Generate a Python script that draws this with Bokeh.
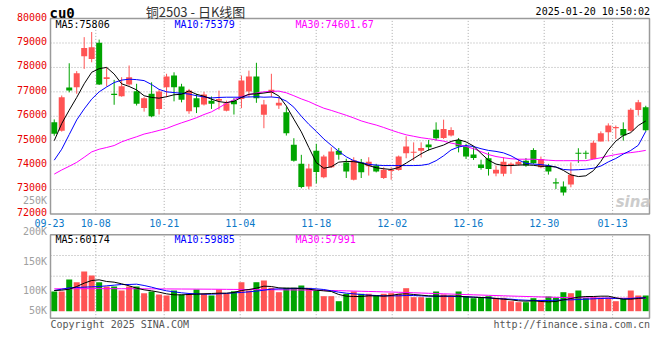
import numpy as np
from bokeh.plotting import figure
from bokeh.models import Range1d, ColumnDataSource
from bokeh.core.properties import value
from bokeh.embed import file_html
from bokeh.resources import INLINE

# ---------------- data ----------------
dates = ["09-23", "09-24", "09-25", "09-26", "09-27", "09-30",
         "10-08", "10-09", "10-10", "10-11", "10-14", "10-15", "10-16", "10-17", "10-18",
         "10-21", "10-22", "10-23", "10-24", "10-25", "10-28", "10-29", "10-30", "10-31",
         "11-01", "11-04", "11-05", "11-06", "11-07", "11-08", "11-11", "11-12", "11-13",
         "11-14", "11-15", "11-18", "11-19", "11-20", "11-21", "11-22", "11-25", "11-26",
         "11-27", "11-28", "11-29", "12-02", "12-03", "12-04", "12-05", "12-06", "12-09",
         "12-10", "12-11", "12-12", "12-13", "12-16", "12-17", "12-18", "12-19", "12-20",
         "12-23", "12-24", "12-25", "12-26", "12-27", "12-30", "12-31", "01-02", "01-03",
         "01-06", "01-07", "01-08", "01-09", "01-10", "01-13", "01-14", "01-15", "01-16",
         "01-17", "01-20"]

open_ = [75750, 75410, 77180, 77190, 78460, 78350, 79010, 77530, 76920, 76820,
         77300, 77020, 76340, 76920, 76300, 77190, 77670, 77220, 76200, 76740,
         76480, 76640, 76630, 76230, 76640, 76710, 77010, 77630, 76060, 76960,
         76440, 76160, 74830, 74050, 73120, 74590, 73500, 73910, 74590, 74110,
         73400, 74110, 73950, 73980, 73470, 73760, 73800, 74480, 74500, 74590,
         74840, 75450, 75110, 75210, 75030, 74760, 74430, 74020, 74280, 73660,
         73640, 73980, 74020, 74180, 74620, 73910, 73980, 73300, 73120, 73200,
         74500, 74490, 74250, 74970, 75340, 75510, 75480, 75410, 76260, 76370]
high = [75870, 76850, 78170, 77850, 79240, 79450, 79140, 78000, 77490, 77600,
        78080, 77330, 76780, 77390, 77090, 77740, 77800, 77330, 77120, 76920,
        77000, 76810, 77050, 76640, 76740, 77670, 77870, 78190, 76670, 77740,
        76780, 76370, 75100, 74420, 74050, 74870, 74420, 74730, 74700, 74260,
        74320, 74250, 74320, 74050, 73910, 73910, 74390, 75180, 74930, 74930,
        75030, 75750, 75860, 75550, 75110, 74870, 74730, 74220, 74520, 73980,
        74320, 74110, 74250, 74290, 74690, 74350, 74050, 73460, 73330, 74110,
        74690, 74590, 75000, 75380, 75710, 75620, 75750, 76330, 76670, 76430]
low = [75200, 75370, 76980, 76920, 77940, 78210, 77280, 77220, 76470, 76800,
       77250, 76440, 76190, 75960, 76070, 76780, 76610, 76570, 76100, 76130,
       76440, 76300, 76270, 76200, 76070, 76330, 76780, 76550, 75510, 76780,
       76300, 75210, 74140, 73050, 73020, 73250, 73460, 73880, 74220, 73470,
       73370, 73470, 73570, 73700, 73430, 73400, 73770, 74280, 74180, 74310,
       74590, 75000, 75070, 75170, 74520, 74250, 74210, 73810, 73570, 73540,
       73540, 73640, 73980, 73930, 74050, 73870, 73610, 73020, 72750, 73090,
       74090, 74250, 74250, 74970, 74970, 75070, 75000, 75370, 76030, 75370]
close = [75280, 76780, 77050, 77760, 78800, 78830, 77300, 77600, 76870, 77230,
         77600, 76510, 76740, 76000, 77010, 77630, 77190, 76680, 77050, 76370,
         76890, 76510, 76710, 76530, 76490, 77460, 77630, 76740, 76480, 77090,
         76550, 75300, 74180, 73100, 73860, 73720, 74350, 74560, 74420, 73740,
         74200, 73710, 74140, 73740, 73810, 73790, 74350, 74760, 74540, 74700,
         74730, 75100, 75480, 75440, 74760, 74350, 74290, 73880, 73840, 73810,
         74140, 74050, 74140, 73980, 74070, 74250, 73740, 73250, 72880, 73600,
         74460, 74460, 74910, 75300, 75620, 75550, 75210, 76270, 76570, 75430]

ma5 = [75000, 75700, 76250, 76770, 77330, 77800, 77950, 78000, 77730, 77330,
       77220, 77080, 76840, 76770, 76740, 76800, 76880, 76900, 77040, 76900,
       76820, 76700, 76600, 76560, 76610, 76770, 76900, 76920, 76950, 77000,
       76830, 76420, 75880, 75360, 74720, 74100, 73870, 73930, 74120, 74150,
       74140, 74090, 73980, 73890, 73850, 73820, 73900, 74080, 74270, 74460,
       74620, 74720, 74820, 74970, 75040, 74950, 74780, 74480, 74200, 74040,
       73980, 73980, 74000, 74010, 73990, 73950, 73950, 73920, 73780, 73600,
       73530, 73560, 73770, 74150, 74620, 74980, 75210, 75330, 75620, 75806]
ma10 = [74200, 74650, 75250, 75850, 76300, 76700, 77000, 77200, 77380, 77480,
        77520, 77500, 77460, 77300, 77100, 77000, 76970, 76940, 76910, 76840,
        76790, 76750, 76770, 76780, 76780, 76780, 76790, 76800, 76780, 76790,
        76760, 76620, 76370, 76000, 75670, 75380, 75070, 74810, 74560, 74340,
        74180, 74100, 74030, 74000, 73980, 73980, 73980, 73980, 73980, 73990,
        74040, 74180, 74380, 74620, 74740, 74800, 74760, 74670, 74600, 74560,
        74500, 74380, 74210, 74070, 74040, 74020, 73980, 73920, 73820, 73800,
        73810, 73830, 73870, 73960, 74130, 74270, 74450, 74600, 74810, 75379]
ma30 = [73630, 73800, 73950, 74110, 74320, 74540, 74650, 74720, 74800, 74950,
        75060, 75160, 75270, 75340, 75420, 75500, 75620, 75730, 75830, 75940,
        76070, 76180, 76350, 76530, 76680, 76800, 76890, 76950, 77000, 77020,
        77030, 76960, 76840, 76710, 76600, 76460, 76330, 76240, 76140, 76040,
        75930, 75810, 75720, 75640, 75540, 75430, 75330, 75240, 75180, 75120,
        75080, 75030, 74980, 74900, 74840, 74760, 74670, 74550, 74430, 74350,
        74300, 74260, 74240, 74240, 74240, 74220, 74200, 74180, 74180, 74180,
        74180, 74180, 74240, 74300, 74370, 74430, 74480, 74510, 74550, 74601.67]

volume = [88500, 88400, 142300, 130200, 178300, 160300, 130200, 110900, 110900, 92900,
          110900, 110900, 80800, 88500, 75000, 70500, 92900, 75000, 78100, 97400,
          78100, 70500, 97400, 78100, 89800, 130200, 92900, 130200, 137800, 105100,
          85300, 105100, 105100, 115400, 105100, 92900, 67400, 67400, 44900, 78100,
          88500, 78100, 78100, 70500, 78100, 80800, 78100, 103300, 62900, 62900,
          60200, 88500, 75000, 67400, 88500, 67400, 58400, 60200, 67400, 60200,
          60200, 44900, 40400, 40400, 58400, 51200, 66000, 60200, 85300, 80800,
          92900, 60200, 62900, 60200, 60200, 44900, 55700, 92900, 70500, 70500]
vma5 = [92900, 94400, 98900, 110900, 125900, 137800, 140800, 133400, 130400, 122900,
        113900, 103400, 95900, 91400, 85500, 78000, 73500, 73500, 75000, 76500,
        78000, 79500, 81000, 81000, 84000, 92900, 97400, 103400, 112400, 110900,
        104900, 103400, 103400, 101900, 98900, 94400, 91400, 88500, 75000, 67500,
        66000, 66000, 69000, 69000, 67500, 70500, 76500, 78000, 75000, 72000,
        69000, 67500, 67500, 69000, 67500, 64500, 63000, 61500, 60000, 57000,
        54000, 51000, 46600, 45100, 46600, 43600, 42100, 43600, 51000, 57000,
        63000, 66000, 66000, 67500, 67500, 60000, 54000, 54000, 57000, 60174]
vma10 = [92900, 98900, 104900, 106400, 107900, 109400, 110900, 113900, 116900, 119900,
         119900, 121400, 115400, 107900, 98900, 91400, 87000, 82500, 79500, 78000,
         76500, 76500, 78000, 79500, 82500, 84000, 87000, 90000, 94400, 98900,
         100400, 100400, 101900, 103400, 101900, 100400, 97400, 91400, 85500, 81000,
         78000, 75000, 72000, 70500, 69000, 69000, 69000, 70500, 70500, 69000,
         67500, 67500, 67500, 66000, 66000, 64500, 63000, 61500, 60000, 57000,
         55500, 54000, 51000, 49500, 48000, 48000, 48000, 49500, 51000, 51000,
         52500, 54000, 55500, 57000, 58500, 57000, 55500, 57000, 60000, 59885]
vma30 = [100400, 100600, 100800, 100900, 101000, 101200, 101300, 101300, 101200, 101000,
         100900, 100800, 100600, 100400, 100200, 100000, 99800, 99600, 99400, 99200,
         99000, 98800, 98500, 98200, 97900, 97600, 97300, 97000, 96700, 96400,
         96100, 95800, 95500, 95100, 94700, 94200, 93600, 92900, 92200, 91300,
         90400, 89500, 88600, 87800, 86900, 86000, 85000, 83900, 82800, 81600,
         80400, 79200, 78000, 76900, 75800, 74700, 73600, 72500, 71400, 70300,
         69200, 68100, 67100, 66100, 65100, 64100, 63200, 62300, 61500, 60800,
         60200, 59700, 59300, 59000, 58700, 58500, 58300, 58200, 58100, 57991]

price_ticks = [72000, 73000, 74000, 75000, 76000, 77000, 78000, 79000, 80000]
date_ticks = ["09-23", "10-08", "10-21", "11-04", "11-18", "12-02", "12-16", "12-30", "01-13"]
vol_tick_labels = ["250K", "200K", "150K", "100K", "50K"]

title_text = "铜2503 - 日K线图"
symbol_text = "cu0"
stamp_text = "2025-01-20 10:50:02"

# ---------------- layout (picture pixels) ----------------
ORG_X, ORG_Y, W, H = 0, 0, 652, 336
FRAME_L, FRAME_R = 50.0, 649.0
N = len(dates)
PX_BAR = (FRAME_R - FRAME_L) / N
PY_TOP_PRICE, PY_BOT_PRICE = 18.1, 213.4          # 80000 / 72000
P_PER_PX = (price_ticks[-1] - price_ticks[0]) / (PY_BOT_PRICE - PY_TOP_PRICE)
VOL_ZERO_PY, V_PER_PX = 310.7, 4490.0
VOL_TOP_PY, VOL_BOT_PY = 234.3, 317.7
VOL_GRID_PY = [255.0, 275.7, 296.4]
VOL_LABEL_PY = [200.3, 230.7, 261.0, 290.0, 310.3]
GRID_PX0, GRID_STEP = 49.7, 7.6   # Sina's date grid runs on its own step


def px2x(px):
    return (px - FRAME_L) / PX_BAR - 0.5


def py2p(py):
    return price_ticks[-1] - (py - PY_TOP_PRICE) * P_PER_PX


def py2v(py):
    return (VOL_ZERO_PY - py) * V_PER_PX


RED, GREEN = "#ff5454", "#00a400"
GRID_C, BORDER_C = "#aaaaaa", "#9a9a9a"
MONO = value("DejaVu Sans Mono")

p = figure(width=W, height=H, title=None, toolbar_location=None, output_backend="svg",
           x_axis_type=None, y_axis_type=None, min_border=0,
           x_range=Range1d(px2x(ORG_X), px2x(ORG_X + W)),
           y_range=Range1d(py2p(ORG_Y + H), py2p(ORG_Y)),
           background_fill_color="white", border_fill_color="white")
p.outline_line_color = None
p.extra_y_ranges = {"vol": Range1d(py2v(ORG_Y + H), py2v(ORG_Y))}

idx = np.arange(N)
o = np.array(open_, float)
c = np.array(close, float)
colors = np.where(c >= o, RED, GREEN)
btm = np.minimum(o, c)
top = np.maximum(np.maximum(o, c), btm + 1.2 * P_PER_PX)
src = ColumnDataSource(dict(x=idx, o=o, c=c, hi=high, lo=low, top=top, btm=btm,
                            color=colors, vol=volume))

x_left, x_right = -0.5, N - 0.5
date_idx = [dates.index(d) for d in date_ticks]
grid_x = [px2x(GRID_PX0 + GRID_STEP * i) for i in date_idx]

# ---- grids ----
pmid = price_ticks[1:-1]
p.segment(x0=[x_left] * len(pmid), x1=[x_right] * len(pmid), y0=pmid, y1=pmid,
          line_color=GRID_C, line_dash="1 2", line_width=1)
gx = grid_x[1:]
p.segment(x0=gx, x1=gx, y0=[price_ticks[0]] * len(gx), y1=[price_ticks[-1]] * len(gx),
          line_color=GRID_C, line_dash="1 2", line_width=1)
vg = [py2v(v) for v in VOL_GRID_PY]
p.segment(x0=[x_left] * 3, x1=[x_right] * 3, y0=vg, y1=vg, y_range_name="vol",
          line_color=GRID_C, line_dash="1 2", line_width=1)
p.segment(x0=gx, x1=gx, y0=[py2v(VOL_BOT_PY)] * len(gx), y1=[py2v(VOL_TOP_PY)] * len(gx),
          y_range_name="vol", line_color=GRID_C, line_dash="1 2", line_width=1)

# ---- candles ----
p.segment(x0="x", x1="x", y0="lo", y1="hi", line_color="color", line_width=1, source=src)
p.vbar(x="x", width=0.8, top="top", bottom="btm", fill_color="color", line_color=None, source=src)

# ---- volume ----
p.vbar(x="x", width=0.8, top="vol", bottom=0, fill_color="color", line_color=None,
       source=src, y_range_name="vol")

# ---- moving averages ----
p.line(idx, ma30, line_color="#ff00ff", line_width=1)
p.line(idx, ma10, line_color="#0000ff", line_width=1)
p.line(idx, ma5, line_color="#000000", line_width=1)
p.line(idx, vma30, line_color="#ff00ff", line_width=1, y_range_name="vol")
p.line(idx, vma10, line_color="#0000ff", line_width=1, y_range_name="vol")
p.line(idx, vma5, line_color="#000000", line_width=1, y_range_name="vol")

# ---- borders ----
p.quad(left=[x_left], right=[x_right], bottom=[price_ticks[0]], top=[price_ticks[-1]],
       fill_color=None, line_color=BORDER_C, line_width=1.5)
p.quad(left=[x_left], right=[x_right], bottom=[py2v(VOL_BOT_PY)], top=[py2v(VOL_TOP_PY)],
       fill_color=None, line_color=BORDER_C, line_width=1.5, y_range_name="vol")


def txt(xs, ys, texts, color, size="10px", font=MONO, align="left", style="normal",
        rng="default", y_offset=0):
    p.text(x=xs, y=ys, text=texts, text_color=color, text_font=font, text_font_size=size,
           text_align=align, text_baseline="middle", text_font_style=style,
           y_range_name=rng, y_offset=y_offset)


# price labels
txt([px2x(46.5)] * len(price_ticks), price_ticks, [str(t) for t in price_ticks],
    "#e80000", align="right", y_offset=-2)
# volume labels (Sina places them on its own scale)
txt([px2x(46.5)] * len(vol_tick_labels), [py2v(v) for v in VOL_LABEL_PY],
    vol_tick_labels, "#a0a0a0", align="right", rng="vol")
# date labels
date_lab_x = [px2x(49.0)] + grid_x[1:]
txt(date_lab_x, [py2p(222.0)] * len(date_ticks), date_ticks, "#0a78c8", align="center")

# legends
leg_x = [px2x(55), px2x(174), px2x(295)]
txt([leg_x[0]], [py2p(24.0)], [f"MA5:{ma5[-1]:.0f}"], "#000000")
txt([leg_x[1]], [py2p(24.0)], [f"MA10:{ma10[-1]:.0f}"], "#0000ff")
txt([leg_x[2]], [py2p(24.0)], [f"MA30:{ma30[-1]:.2f}"], "#ff00ff")
txt([leg_x[0]], [py2v(238.5)], [f"MA5:{vma5[-1]:.0f}"], "#000000", rng="vol")
txt([leg_x[1]], [py2v(238.5)], [f"MA10:{vma10[-1]:.0f}"], "#0000ff", rng="vol")
txt([leg_x[2]], [py2v(238.5)], [f"MA30:{vma30[-1]:.0f}"], "#ff00ff", rng="vol")

# header
txt([px2x(49)], [py2p(12.0)], [symbol_text], "#000000", size="14px", style="bold")
txt([px2x(195)], [py2p(10.5)], [title_text], "#333333", size="13px",
    font=value("Noto Sans CJK SC"), align="center")
txt([px2x(649.5)], [py2p(11.0)], [stamp_text], "#000000", align="right")

# footer
txt([px2x(50)], [py2v(323.5)], ["Copyright 2025 SINA.COM"], "#555555", rng="vol")
txt([px2x(649.5)], [py2v(323.5)], ["http://finance.sina.com.cn"], "#555555",
    align="right", rng="vol")

# watermark
txt([px2x(650)], [py2p(201.0)], ["sina"], "#cccccc", size="15px",
    font=value("DejaVu Sans"), align="right", style="bold italic")

with open("out.html", "w", encoding="utf-8") as f:
    f.write(file_html(p, INLINE))
